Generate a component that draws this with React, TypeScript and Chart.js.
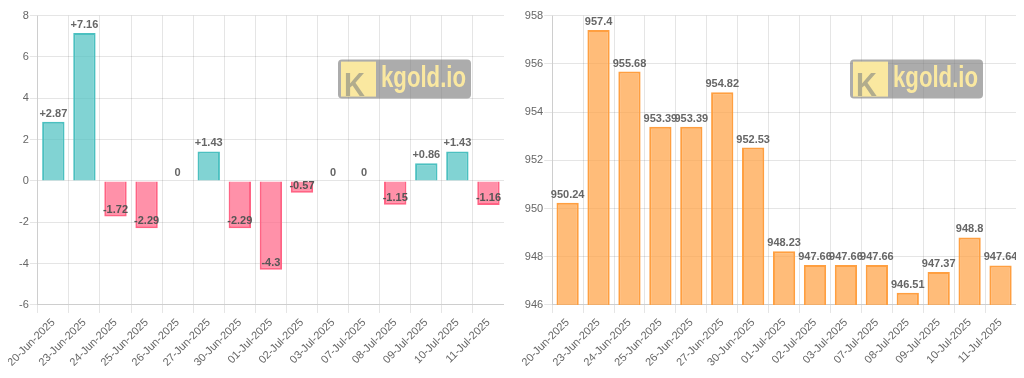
import React, { useEffect, useRef } from "react";
import { Chart, registerables } from "chart.js";

Chart.register(...registerables);

const dates = [
  "20-Jun-2025", "23-Jun-2025", "24-Jun-2025", "25-Jun-2025", "26-Jun-2025",
  "27-Jun-2025", "30-Jun-2025", "01-Jul-2025", "02-Jul-2025", "03-Jul-2025",
  "07-Jul-2025", "08-Jul-2025", "09-Jul-2025", "10-Jul-2025", "11-Jul-2025",
];
const changes = [2.87, 7.16, -1.72, -2.29, 0, 1.43, -2.29, -4.3, -0.57, 0, 0, -1.15, 0.86, 1.43, -1.16];
const prices = [950.24, 957.4, 955.68, 953.39, 953.39, 954.82, 952.53, 948.23, 947.66, 947.66, 947.66, 946.51, 947.37, 948.8, 947.64];
const changeTicks = { min: -6, max: 8, step: 2 };
const priceTicks = { min: 946, max: 958, step: 2 };

const FONT = "'Helvetica Neue', Helvetica, Arial, sans-serif";

function drawWatermark(chart: any) {
  const { ctx, chartArea } = chart;
  const w = 133, h = 39;
  const x = chartArea.right - 33 - w;
  const y = chartArea.top + 44;
  ctx.save();
  ctx.fillStyle = "rgba(128,128,128,0.65)";
  ctx.beginPath();
  (ctx as any).roundRect(x, y, w, h, 4);
  ctx.fill();
  ctx.fillStyle = "rgba(255,236,160,0.95)";
  ctx.fillRect(x + 3, y + 2, 35, 35);
  ctx.fillStyle = "rgba(170,165,140,0.9)";
  ctx.font = `bold 34px ${FONT}`;
  ctx.textBaseline = "alphabetic";
  ctx.textAlign = "left";
  ctx.save();
  ctx.translate(x + 6, y + 36);
  ctx.scale(0.85, 1);
  ctx.fillText("K", 0, 0);
  ctx.restore();
  ctx.fillStyle = "rgba(255,236,160,0.95)";
  ctx.font = `bold 29px ${FONT}`;
  ctx.save();
  ctx.translate(x + 43, y + 27);
  const tw = ctx.measureText("kgold.io").width;
  ctx.scale(85 / tw, 1);
  ctx.fillText("kgold.io", 0, 0);
  ctx.restore();
  ctx.restore();
}

function makeLabelPlugin(signed: boolean) {
  return {
    id: "valueLabels",
    afterDatasetsDraw(chart: any) {
      const { ctx } = chart;
      const meta = chart.getDatasetMeta(0);
      const data = chart.data.datasets[0].data as number[];
      ctx.save();
      ctx.font = `bold 11px ${FONT}`;
      ctx.textAlign = "center";
      ctx.textBaseline = "middle";
      meta.data.forEach((el: any, i: number) => {
        const v = data[i];
        let text = String(v);
        if (signed && v > 0) text = "+" + v;
        let ty: number;
        if (signed && v < 0) {
          ty = el.y - 7;
          ctx.fillStyle = "#555";
        } else {
          ty = el.y - 8;
          ctx.fillStyle = "#666";
        }
        ctx.fillText(text, el.x, ty);
      });
      ctx.restore();
      drawWatermark(chart);
    },
  };
}

function BarChart(props: {
  values: number[];
  colors: string[];
  borders: string[];
  ticks: { min: number; max: number; step: number };
  signed: boolean;
  left: number;
  width: number;
}) {
  const ref = useRef<HTMLCanvasElement>(null);
  useEffect(() => {
    if (!ref.current) return;
    const chart = new Chart(ref.current, {
      type: "bar",
      data: {
        labels: dates,
        datasets: [
          {
            data: props.values,
            backgroundColor: props.colors,
            borderColor: props.borders,
            borderWidth: 2,
          },
        ],
      },
      options: {
        animation: false,
        responsive: true,
        maintainAspectRatio: false,
        plugins: { legend: { display: false }, tooltip: { enabled: false } },
        scales: {
          x: {
            ticks: { maxRotation: 45, minRotation: 45, color: "#666", font: { size: 11 } },
            grid: { color: "rgba(0,0,0,0.1)" },
          },
          y: {
            min: props.ticks.min,
            max: props.ticks.max,
            ticks: { stepSize: props.ticks.step, color: "#666", font: { size: 11 }, padding: 1 },
            grid: { color: "rgba(0,0,0,0.1)" },
          },
        },
      },
      plugins: [makeLabelPlugin(props.signed)],
    });
    return () => chart.destroy();
  }, []);
  return (
    <div style={{ position: "absolute", left: props.left, top: 0, width: props.width, height: 364 }}>
      <canvas ref={ref} />
    </div>
  );
}

export default function App() {
  const cColors = changes.map((v) => (v >= 0 ? "rgba(75,192,192,0.7)" : "rgba(255,99,132,0.7)"));
  const cBorders = changes.map((v) => (v >= 0 ? "rgb(75,192,192)" : "rgb(255,99,132)"));
  const pColors = prices.map(() => "rgba(255,159,64,0.7)");
  const pBorders = prices.map(() => "rgb(255,159,64)");
  return (
    <div style={{ position: "relative", width: 1008, height: 364 }}>
      <BarChart values={changes} colors={cColors} borders={cBorders} ticks={changeTicks} signed={true} left={-2} width={498} />
      <BarChart values={prices} colors={pColors} borders={pBorders} ticks={priceTicks} signed={false} left={512} width={496} />
    </div>
  );
}
